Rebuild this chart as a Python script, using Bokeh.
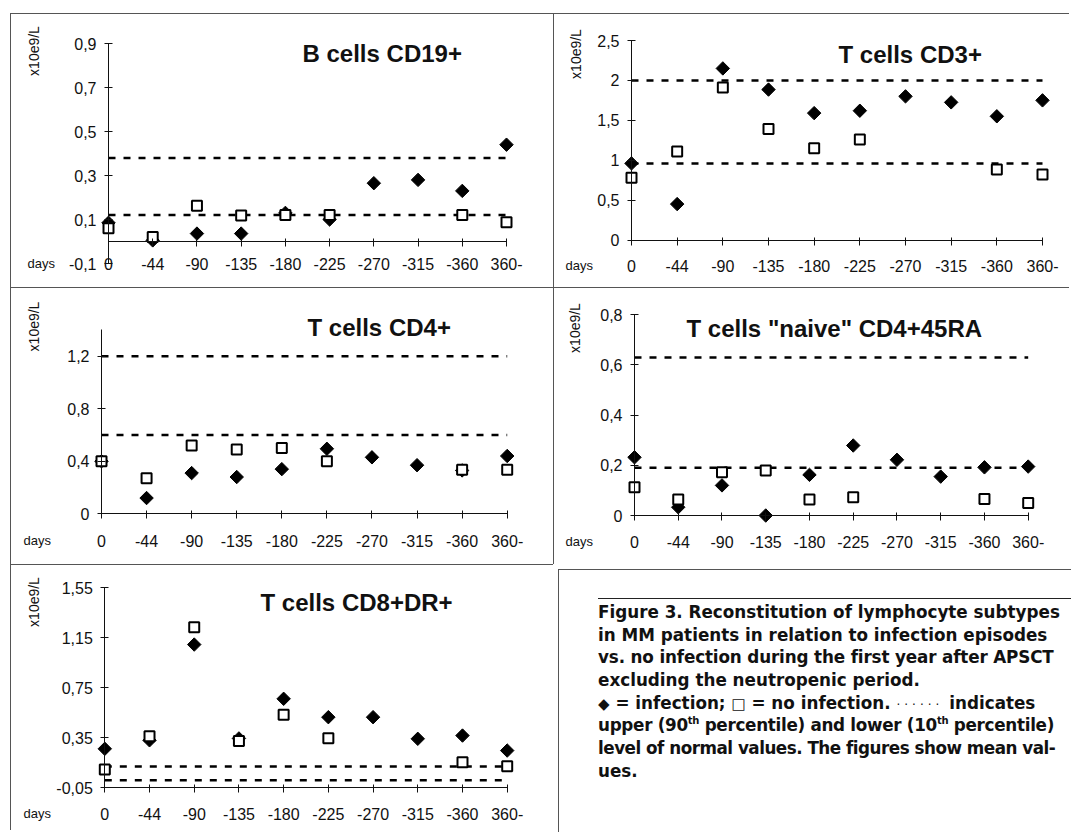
import math
from bokeh.plotting import figure
from bokeh.models import Range1d, LinearAxis, FixedTicker, Label, Div, Spacer
from bokeh.layouts import column, row
from bokeh.core.properties import value
from bokeh.embed import file_html
from bokeh.resources import INLINE

# ---------------- data ----------------
categories = ["0", "-44", "-90", "-135", "-180", "-225", "-270", "-315", "-360", "360-"]
NaN = float("nan")

# B cells CD19+
b_infection = [0.085, 0.005, 0.036, 0.036, 0.13, 0.10, 0.265, 0.28, 0.23, 0.44]
b_no_infection = [0.06, 0.02, 0.163, 0.118, 0.12, 0.12, NaN, NaN, 0.12, 0.087]
b_normal = [0.12, 0.38]
b_ticks = [-0.1, 0.1, 0.3, 0.5, 0.7, 0.9]
b_tick_labels = ["-0,1", "0,1", "0,3", "0,5", "0,7", "0,9"]

# T cells CD3+
cd3_infection = [0.96, 0.45, 2.15, 1.885, 1.59, 1.62, 1.80, 1.725, 1.55, 1.75]
cd3_no_infection = [0.78, 1.11, 1.91, 1.39, 1.15, 1.26, NaN, NaN, 0.885, 0.82]
cd3_normal = [0.96, 2.0]
cd3_ticks = [0, 0.5, 1, 1.5, 2, 2.5]
cd3_tick_labels = ["0", "0,5", "1", "1,5", "2", "2,5"]

# T cells CD4+
cd4_infection = [0.40, 0.12, 0.31, 0.28, 0.34, 0.495, 0.43, 0.37, 0.33, 0.44]
cd4_no_infection = [0.40, 0.27, 0.52, 0.49, 0.50, 0.40, NaN, NaN, 0.335, 0.335]
cd4_normal = [0.60, 1.20]
cd4_ticks = [0, 0.4, 0.8, 1.2]
cd4_tick_labels = ["0", "0,4", "0,8", "1,2"]
cd4_axis_max = 1.4

# T cells "naive" CD4+45RA
naive_infection = [0.232, 0.033, 0.12, 0.0, 0.162, 0.279, 0.222, 0.155, 0.192, 0.195]
naive_no_infection = [0.113, 0.064, 0.172, 0.179, 0.064, 0.073, NaN, NaN, 0.066, 0.05]
naive_normal = [0.19, 0.63]
naive_ticks = [0, 0.2, 0.4, 0.6, 0.8]
naive_tick_labels = ["0", "0,2", "0,4", "0,6", "0,8"]

# T cells CD8+DR+
cd8_infection = [0.262, 0.33, 1.096, 0.345, 0.662, 0.515, 0.515, 0.342, 0.368, 0.248]
cd8_no_infection = [0.096, 0.362, 1.235, 0.325, 0.534, 0.347, NaN, NaN, 0.155, 0.123]
cd8_normal = [0.01, 0.12]
cd8_ticks = [-0.05, 0.35, 0.75, 1.15, 1.55]
cd8_tick_labels = ["-0,05", "0,35", "0,75", "1,15", "1,55"]

unit_text = "x10e9/L"
days_text = "days"

FONT = "Liberation Sans"
INK = "#111111"
BORDER = {"box-shadow": "inset 1px 1px 0 0 #555"}
B = 7  # frame inset inside each panel


def panel(W, H, px0, px9, py_lo, py_hi, y_lo, y_hi, title, title_px, unit_px, days_px,
          label_py, inf, noinf, normal, ticks, tick_labels, xaxis_at, yaxis_top):
    n = len(categories)
    idx = list(range(n))
    sx = (px9 - px0) / (n - 1)
    sy = (py_lo - py_hi) / (y_hi - y_lo)

    def X(px):
        return (px - px0) / sx

    def Y(py):
        return y_lo + (py_lo - py) / sy

    p = figure(width=W, height=H,
               x_range=Range1d(X(B), X(W - B)), y_range=Range1d(Y(H - B), Y(B)),
               min_border_left=B, min_border_right=B, min_border_top=B, min_border_bottom=B,
               x_axis_location=None, y_axis_location=None,
               toolbar_location=None, output_backend="svg", title=None,
               border_fill_color=None, background_fill_color=None,
               outline_line_color=None, styles=BORDER)
    p.grid.visible = False

    # axis lines and tick marks (library axes placed at fixed data locations)
    xa = LinearAxis(fixed_location=xaxis_at, bounds=(0, n - 1),
                    ticker=FixedTicker(ticks=idx, minor_ticks=[]),
                    major_tick_in=3, major_tick_out=5)
    ya = LinearAxis(fixed_location=0, bounds=(y_lo, yaxis_top),
                    ticker=FixedTicker(ticks=ticks, minor_ticks=[]),
                    major_tick_in=4, major_tick_out=4)
    for ax in (xa, ya):
        ax.axis_line_color = INK
        ax.axis_line_width = 1
        ax.major_tick_line_color = INK
        ax.minor_tick_line_color = None
        ax.major_label_text_font_size = "0px"
        ax.major_label_text_color = None
        ax.major_label_standoff = 0
    p.add_layout(xa, "below")
    p.add_layout(ya, "left")

    # tick labels
    p.text(x=[X(px0 - 12)] * len(ticks), y=ticks, text=tick_labels,
           text_font=value(FONT), text_font_size="16px", text_color=INK,
           text_align="right", text_baseline="middle")
    p.text(x=idx, y=[Y(label_py)] * n, text=categories,
           text_font=value(FONT), text_font_size="16px", text_color=INK,
           text_align="center", text_baseline="middle")

    # normal-range lines
    for v in normal:
        p.line(idx, [v] * n, line_color="black", line_width=2.5, line_dash="7 8")
    # infection: filled diamonds
    p.scatter(idx, inf, marker="square", angle=math.pi / 4, size=9.5,
              fill_color="black", line_color="black")
    # no infection: open squares
    p.scatter(idx, noinf, marker="square", size=10, fill_color="white",
              line_color="black", line_width=2)

    p.add_layout(Label(x=X(title_px[0]), y=Y(title_px[1]), text=title,
                       text_font=FONT, text_font_size="24px", text_font_style="bold",
                       text_color=INK, text_align="left", text_baseline="alphabetic"))
    p.add_layout(Label(x=X(unit_px[0]), y=Y(unit_px[1]), text=unit_text,
                       text_font=FONT, text_font_size="14px", text_color=INK,
                       angle=math.pi / 2, text_align="center", text_baseline="middle"))
    p.add_layout(Label(x=X(days_px[0]), y=Y(days_px[1]), text=days_text,
                       text_font=FONT, text_font_size="13px", text_color=INK,
                       text_align="left", text_baseline="middle"))
    return p


p1 = panel(543, 274, 98, 496, 250, 30, -0.1, 0.9, "B cells CD19+", (292, 40.3),
           (23, 37.5), (17, 250), 250, b_infection, b_no_infection, b_normal,
           b_ticks, b_tick_labels, 0, 0.9)
p2 = panel(516, 274, 78, 489, 226.5, 27, 0, 2.5, "T cells CD3+", (285, 41.3),
           (22, 40.5), (12, 252), 252, cd3_infection, cd3_no_infection, cd3_normal,
           cd3_ticks, cd3_tick_labels, 0, 2.5)
p3 = panel(543, 277, 91, 496.7, 226.3, 42.4, 0, 1.4, "T cells CD4+", (297, 39.7),
           (23, 39), (13, 253), 253, cd4_infection, cd4_no_infection, cd4_normal,
           cd4_ticks, cd4_tick_labels, 0, cd4_axis_max)
p4 = panel(516, 277, 81, 474.7, 228, 27.3, 0, 0.8, 'T cells "naive" CD4+45RA', (133, 40.7),
           (21, 40.5), (12, 254), 254, naive_infection, naive_no_infection, naive_normal,
           naive_ticks, naive_tick_labels, 0, 0.8)
p5 = panel(543, 266, 94.3, 496.7, 223.3, 23.3, -0.05, 1.55, "T cells CD8+DR+", (250, 37.7),
           (23, 37.5), (13, 249), 249, cd8_infection, cd8_no_infection, cd8_normal,
           cd8_ticks, cd8_tick_labels, -0.05, 1.55)

SYM = "font-family:'DejaVu Sans';font-weight:normal;font-size:15px;line-height:0;"
caption_lines = [
    ("Figure 3. Reconstitution of lymphocyte subtypes", ""),
    ("in MM patients in relation to infection episodes", ""),
    ("vs. no infection during the first year after APSCT", "letter-spacing:-0.15px;"),
    ("excluding the neutropenic period.", ""),
    (f"<span style=\"{SYM}\">&#9670;</span> = infection; "
     f"<span style=\"{SYM}\">&#9633;</span> = no infection. "
     "<span style=\"font-weight:normal;letter-spacing:4px;font-size:12px;line-height:0\">"
     "&middot;&middot;&middot;&middot;&middot;&middot;</span> indicates", ""),
    ("upper (90<sup style='font-size:10px;line-height:0'>th</sup> percentile) and lower "
     "(10<sup style='font-size:10px;line-height:0'>th</sup> percentile)", "letter-spacing:-0.3px;"),
    ("level of normal values. The figures show mean val-", "letter-spacing:-0.5px;"),
    ("ues.", ""),
]
caption_html = (
    "<div style=\"position:relative;width:516px;height:266px;\">"
    "<div style=\"position:absolute;left:40px;top:29px;width:476px;border-top:1.5px solid #222;\"></div>"
    "<div style=\"position:absolute;left:40px;top:32px;font-family:'DejaVu Sans';font-weight:bold;"
    "font-size:16.8px;color:#111;\">"
    + "".join(f"<div style='height:22.7px;line-height:22.7px;white-space:nowrap;{extra}'>{t}</div>"
              for t, extra in caption_lines)
    + "</div></div>"
)
caption = Div(text=caption_html, width=516, height=266, styles=BORDER)

layout = column(
    Spacer(height=13),
    row(Spacer(width=10), p1, p2),
    row(Spacer(width=10), p3, p4),
    row(Spacer(width=10), p5, caption),
)
open("out.html", "w").write(file_html(layout, INLINE))
